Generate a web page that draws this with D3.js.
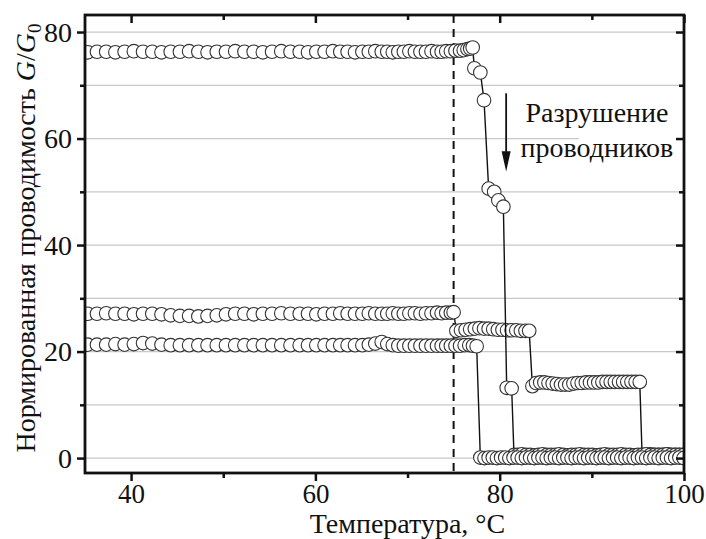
<!DOCTYPE html>
<html>
<head>
<meta charset="utf-8">
<script src="https://cdn.jsdelivr.net/npm/d3@7/dist/d3.min.js"></script>
<style>
  html, body { margin: 0; padding: 0; background: #fff; }
  svg { display: block; }
  text { font-family: "Liberation Serif", "DejaVu Serif", serif; fill: #111; }
</style>
</head>
<body>
<svg id="chart" width="706" height="539"></svg>
<script>
// Temperatures of the common plateau part (°C)
const tempsLow = [
  35.3, 36.3, 37.3, 38.3, 39.3, 40.3, 41.3, 42.3, 43.3, 44.3,
  45.3, 46.3, 47.3, 48.3, 49.3, 50.3, 51.3, 52.3, 53.3, 54.3,
  55.3, 56.3, 57.3, 58.3, 59.2, 60.1, 61.0, 61.9, 62.7, 63.5,
  64.3, 65.1, 65.8, 66.5, 67.2, 67.8, 68.4, 69.0, 69.6, 70.2,
  70.8, 71.4, 72.0, 72.6, 73.2, 73.7, 74.2, 74.7
];

// Temperatures of the high, near zero part (°C)
const tempsHigh = [
  77.9, 78.35, 78.8, 79.25, 79.7, 80.15, 80.6, 81.05, 81.5, 81.95,
  82.4, 82.85, 83.3, 83.75, 84.2, 84.65, 85.1, 85.55, 86.0, 86.45,
  86.9, 87.35, 87.8, 88.25, 88.7, 89.15, 89.6, 90.05, 90.5, 90.95,
  91.4, 91.85, 92.3, 92.75, 93.2, 93.65, 94.1, 94.55, 95.0, 95.45,
  95.9, 96.35, 96.8, 97.25, 97.7, 98.15, 98.6, 99.05, 99.5, 99.95
];

// Sample 1 (upper curve)
const condALow = [
  76.2, 76.3, 76.3, 76.2, 76.3, 76.4, 76.3, 76.3, 76.2, 76.3,
  76.3, 76.4, 76.3, 76.2, 76.3, 76.3, 76.4, 76.3, 76.3, 76.2,
  76.3, 76.4, 76.3, 76.3, 76.2, 76.3, 76.3, 76.4, 76.3, 76.3,
  76.2, 76.3, 76.3, 76.4, 76.3, 76.3, 76.2, 76.3, 76.3, 76.4,
  76.3, 76.3, 76.3, 76.4, 76.3, 76.3, 76.4, 76.4
];
const tempADrop = [75.2, 75.7, 76.1, 76.5, 76.8, 77.07, 77.25, 77.9, 78.3, 78.8, 79.4, 79.85, 80.4, 80.76, 81.3, 81.55];
const condADrop = [76.5, 76.5, 76.6, 76.8, 76.9, 77.1, 73.2, 72.4, 67.2, 50.6, 50.0, 48.4, 47.2, 13.2, 13.1, 0.6];
const condAHigh = [
  0.6, 0.7, 0.6, 0.6, 0.5, 0.6, 0.7, 0.6, 0.6, 0.6,
  0.7, 0.6, 0.5, 0.6, 0.6, 0.7, 0.6, 0.6, 0.6, 0.5,
  0.6, 0.7, 0.6, 0.6, 0.6, 0.7, 0.6, 0.6, 0.5, 0.6,
  0.6, 0.7, 0.6, 0.6, 0.6, 0.6, 0.7, 0.6, 0.6, 0.6, 0.6
]; // from tempsHigh[9]

// Sample 2 (middle curve)
const condBLow = [
  27.1, 27.1, 27.2, 27.1, 27.1, 27.0, 27.1, 27.1, 27.0, 26.8,
  26.7, 26.7, 26.6, 26.7, 26.8, 27.0, 27.1, 27.1, 27.0, 27.1,
  27.1, 27.2, 27.1, 27.1, 27.1, 27.0, 27.1, 27.1, 27.2, 27.1,
  27.1, 27.1, 27.2, 27.1, 27.1, 27.1, 27.2, 27.1, 27.1, 27.2,
  27.2, 27.1, 27.2, 27.2, 27.3, 27.2, 27.3, 27.3
];
const tempBStep = [
  75.0, 75.3, 75.8, 76.3, 76.8, 77.3, 77.8, 78.3, 78.8, 79.3, 79.8, 80.3, 80.8, 81.3, 81.8, 82.3, 82.8, 83.2,
  83.55, 83.95, 84.4, 84.85, 85.3, 85.75, 86.2, 86.65, 87.1, 87.55, 88.0, 88.45, 88.9, 89.35, 89.8,
  90.25, 90.7, 91.15, 91.6, 92.05, 92.5, 92.95, 93.4, 93.85, 94.3, 94.75, 95.2
];
const condBStep = [
  27.4, 23.9, 24.0, 24.1, 24.2, 24.3, 24.4, 24.3, 24.3, 24.2, 24.1, 24.1, 24.0, 24.0, 24.0, 23.9, 23.9, 23.9,
  13.5, 14.1, 14.2, 14.2, 14.1, 14.0, 13.9, 13.8, 13.8, 13.8, 14.0, 14.1, 14.1, 14.2, 14.2,
  14.2, 14.2, 14.3, 14.3, 14.3, 14.3, 14.3, 14.3, 14.3, 14.3, 14.3, 14.3
];
const condBHigh = [0.6, 0.6, 0.7, 0.6, 0.6, 0.6, 0.7, 0.6, 0.6, 0.6, 0.6]; // from tempsHigh[39]

// Sample 3 (lower curve)
const condCLow = [
  21.3, 21.3, 21.3, 21.4, 21.3, 21.4, 21.6, 21.5, 21.3, 21.2,
  21.2, 21.2, 21.2, 21.2, 21.2, 21.2, 21.2, 21.2, 21.2, 21.2,
  21.2, 21.2, 21.2, 21.2, 21.2, 21.2, 21.2, 21.2, 21.2, 21.2,
  21.2, 21.2, 21.3, 21.5, 21.8, 21.4, 21.2, 21.1, 21.1, 21.1,
  21.1, 21.1, 21.1, 21.1, 21.1, 21.1, 21.1, 21.1
];
const tempCDrop = [75.2, 75.7, 76.2, 76.7, 77.1, 77.5];
const condCDrop = [21.1, 21.1, 21.2, 21.2, 21.1, 21.0];
const condCHigh = [
  0.1, 0.0, 0.1, 0.1, 0.0, 0.1, 0.1, 0.0, 0.1, 0.1,
  0.0, 0.1, 0.1, 0.0, 0.1, 0.1, 0.0, 0.1, 0.1, 0.0,
  0.1, 0.1, 0.0, 0.1, 0.1, 0.0, 0.1, 0.1, 0.0, 0.1,
  0.1, 0.0, 0.1, 0.1, 0.0, 0.1, 0.1, 0.0, 0.1, 0.1,
  0.0, 0.1, 0.1, 0.0, 0.1, 0.1, 0.0, 0.1, 0.1, 0.0
];

// Axes
const xDomain = [35, 100];
const yDomain = [-2.8, 83.2];
const xTicks = [40, 60, 80, 100];
const xMinorTicks = [50, 70, 90];
const yTicks = [0, 20, 40, 60, 80];
const yMinorTicks = [10, 30, 50, 70];
const yGrid = [0, 10, 20, 30, 40, 50, 60, 70, 80];
const markerTemp = 75;
const noteLines = ['Разрушение', 'проводников'];

// Build the three series as point lists
const zip = (ts, vs) => vs.map((v, i) => ({ t: ts[i], g: v }));
const seriesA = [].concat(zip(tempsLow, condALow), zip(tempADrop, condADrop), zip(tempsHigh.slice(9), condAHigh));
const seriesB = [].concat(zip(tempsLow, condBLow), zip(tempBStep, condBStep), zip(tempsHigh.slice(39), condBHigh));
const seriesC = [].concat(zip(tempsLow, condCLow), zip(tempCDrop, condCDrop), zip(tempsHigh, condCHigh));

const margin = { top: 15, right: 22, bottom: 66, left: 85 };
const width = 706 - margin.left - margin.right;
const height = 539 - margin.top - margin.bottom;
const fontSize = 28;
const serif = '"Liberation Serif", "DejaVu Serif", serif';

const x = d3.scaleLinear().domain(xDomain).range([0, width]);
const y = d3.scaleLinear().domain(yDomain).range([height, 0]);

const svg = d3.select('#chart');
const g = svg.append('g').attr('transform', `translate(${margin.left},${margin.top})`);

g.append('clipPath').attr('id', 'plot-clip')
  .append('rect').attr('width', width).attr('height', height);

// Grid lines
g.append('g')
  .selectAll('line')
  .data(yGrid)
  .join('line')
    .attr('x1', 0).attr('x2', width)
    .attr('y1', d => y(d)).attr('y2', d => y(d))
    .attr('stroke', '#c8c8c8')
    .attr('stroke-width', 1.2);

// Annotation box (covers the grid behind the text)
g.append('rect')
  .attr('x', x(88.6)).attr('y', y(66.3))
  .attr('width', width - x(88.6)).attr('height', y(51.6) - y(66.3))
  .attr('fill', '#fff');

// Dashed marker line
g.append('line')
  .attr('x1', x(markerTemp)).attr('x2', x(markerTemp))
  .attr('y1', 0).attr('y2', height)
  .attr('stroke', '#111')
  .attr('stroke-width', 2)
  .attr('stroke-dasharray', '8,6');

// Series: line first, then white circles
const line = d3.line().x(d => x(d.t)).y(d => y(d.g));
const plot = g.append('g').attr('clip-path', 'url(#plot-clip)');

[seriesB, seriesA, seriesC].forEach(series => {
  const s = plot.append('g');
  s.append('path')
    .attr('d', line(series))
    .attr('fill', 'none')
    .attr('stroke', '#111')
    .attr('stroke-width', 1.4);
  s.selectAll('circle')
    .data(series)
    .join('circle')
      .attr('cx', d => x(d.t))
      .attr('cy', d => y(d.g))
      .attr('r', 6.8)
      .attr('fill', '#fff')
      .attr('stroke', '#333')
      .attr('stroke-width', 1.1);
});

// Arrow
const arrowX = x(80.7);
g.append('line')
  .attr('x1', arrowX).attr('x2', arrowX)
  .attr('y1', y(68.5)).attr('y2', y(57.5))
  .attr('stroke', '#111').attr('stroke-width', 1.8);
g.append('path')
  .attr('d', `M${arrowX - 4.5},${y(57.6)} L${arrowX + 4.5},${y(57.6)} L${arrowX},${y(53.8)} Z`)
  .attr('fill', '#111');

g.append('g')
  .selectAll('text')
  .data(noteLines)
  .join('text')
    .attr('x', x(90.55))
    .attr('y', (d, i) => y(i === 0 ? 63.1 : 56.5))
    .attr('text-anchor', 'middle')
    .attr('font-size', fontSize)
    .style('font-family', serif)
    .text(d => d);

// Axes
const styleAxis = sel => {
  sel.attr('font-family', null);
  sel.select('.domain').remove();
  sel.selectAll('line').attr('stroke', '#111').attr('stroke-width', 2.5);
  sel.selectAll('text').attr('font-size', fontSize).attr('fill', '#111')
    .style('font-family', serif);
};

g.append('g').attr('transform', `translate(0,${height})`)
  .call(d3.axisBottom(x).tickValues(xTicks).tickSize(8).tickPadding(3)).call(styleAxis)
  .selectAll('text').attr('font-size', 27);
g.append('g').attr('transform', `translate(0,${height})`)
  .call(d3.axisBottom(x).tickValues(xMinorTicks).tickSize(5).tickFormat('')).call(styleAxis);
g.append('g')
  .call(d3.axisTop(x).tickValues(xTicks).tickSize(-8).tickFormat('')).call(styleAxis);
g.append('g')
  .call(d3.axisTop(x).tickValues(xMinorTicks).tickSize(-5).tickFormat('')).call(styleAxis);

g.append('g')
  .call(d3.axisLeft(y).tickValues(yTicks).tickSize(8).tickPadding(5)).call(styleAxis);
g.append('g')
  .call(d3.axisLeft(y).tickValues(yMinorTicks).tickSize(5).tickFormat('')).call(styleAxis);
g.append('g').attr('transform', `translate(${width},0)`)
  .call(d3.axisRight(y).tickValues(yTicks).tickSize(-8).tickFormat('')).call(styleAxis);
g.append('g').attr('transform', `translate(${width},0)`)
  .call(d3.axisRight(y).tickValues(yMinorTicks).tickSize(-5).tickFormat('')).call(styleAxis);

// Frame
g.append('rect')
  .attr('width', width).attr('height', height)
  .attr('fill', 'none')
  .attr('stroke', '#111')
  .attr('stroke-width', 2.8);

// Axis titles
svg.append('text')
  .attr('x', margin.left + width / 2 + 23)
  .attr('y', 533)
  .attr('text-anchor', 'middle')
  .attr('font-size', 28)
  .style('font-family', serif)
  .text('Температура, °C');

const yTitle = svg.append('text')
  .attr('transform', `translate(35,${margin.top + height / 2 - 6}) rotate(-90)`)
  .attr('text-anchor', 'middle')
  .attr('font-size', fontSize)
  .style('font-family', serif);
yTitle.append('tspan').text('Нормированная проводимость ');
yTitle.append('tspan').attr('font-style', 'italic').text('G');
yTitle.append('tspan').text('/');
yTitle.append('tspan').attr('font-style', 'italic').text('G');
yTitle.append('tspan').attr('font-size', 19).attr('dy', 6).text('0');
</script>
</body>
</html>
